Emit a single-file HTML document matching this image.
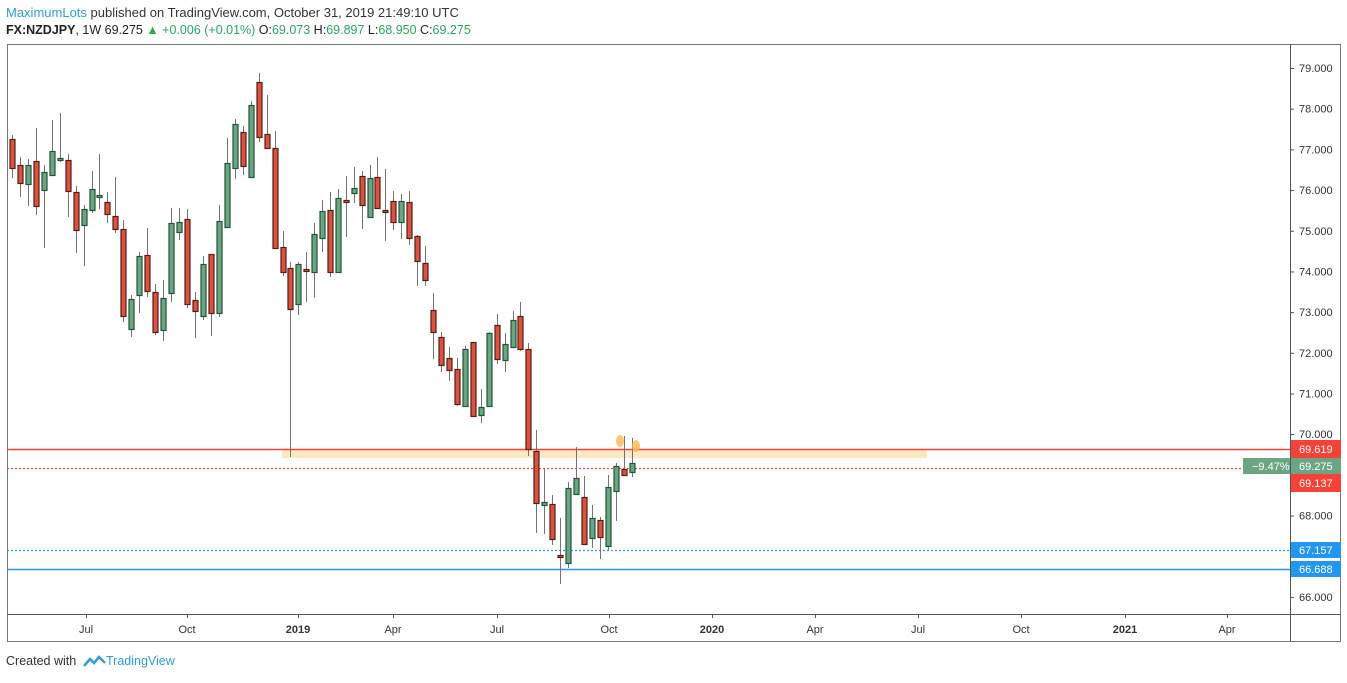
<!DOCTYPE html>
<html><head><meta charset="utf-8"><style>
body{margin:0;background:#fff;width:1347px;height:678px;overflow:hidden;font-family:"Liberation Sans",sans-serif}
</style></head><body>
<svg id="s" width="1347" height="678" xmlns="http://www.w3.org/2000/svg" font-family="Liberation Sans, sans-serif">
<text x="6" y="17" font-size="13" fill="#333"><tspan fill="#2f9be0">MaximumLots</tspan> published on TradingView.com, October 31, 2019 21:49:10 UTC</text>
<text x="6" y="34" font-size="12.5" fill="#222" font-weight="bold">FX:NZDJPY<tspan font-weight="normal">, 1W  69.275 </tspan><tspan fill="#26a65b" font-weight="normal">▲ +0.006 (+0.01%)</tspan><tspan font-weight="normal"> O:</tspan><tspan fill="#26a65b" font-weight="normal">69.073</tspan><tspan font-weight="normal"> H:</tspan><tspan fill="#26a65b" font-weight="normal">69.897</tspan><tspan font-weight="normal"> L:</tspan><tspan fill="#26a65b" font-weight="normal">68.950</tspan><tspan font-weight="normal"> C:</tspan><tspan fill="#26a65b" font-weight="normal">69.275</tspan></text>
<rect x="7.5" y="44.5" width="1333" height="597" fill="none" stroke="#777" stroke-width="1"/>
<line x1="1290.5" y1="44" x2="1290.5" y2="641" stroke="#555"/>
<line x1="7" y1="614.5" x2="1341" y2="614.5" stroke="#555"/>
<g id="ax" font-size="11" fill="#333"></g>
<rect x="282" y="449" width="645" height="9" fill="#fde9c1"/>
<line x1="7" y1="449.5" x2="1290" y2="449.5" stroke="#f44336" stroke-width="1.6"/>
<line x1="7" y1="468.5" x2="1290" y2="468.5" stroke="#f44336" stroke-width="1.3" stroke-dasharray="2,2"/>
<line x1="7" y1="550.5" x2="1290" y2="550.5" stroke="#2196f3" stroke-width="1.3" stroke-dasharray="2,2"/>
<line x1="7" y1="569.5" x2="1290" y2="569.5" stroke="#2196f3" stroke-width="1.6"/>
<g id="c"></g>
<ellipse cx="620" cy="441" rx="4" ry="6" fill="#ffb74d" opacity="0.8"/>
<ellipse cx="636" cy="446" rx="4" ry="6" fill="#ffb74d" opacity="0.8"/>
<rect x="1291" y="440" width="50" height="18" fill="#f44336"/><text x="1299" y="453" font-size="11" fill="#fff">69.619</text>
<rect x="1243" y="458" width="47" height="16" fill="#6ba583"/><text x="1252" y="470" font-size="11" fill="#fff">−9.47%</text>
<rect x="1291" y="458" width="50" height="16" fill="#6ba583"/><text x="1299" y="470" font-size="11" fill="#fff">69.275</text>
<rect x="1291" y="474" width="50" height="18" fill="#f44336"/><text x="1299" y="487" font-size="11" fill="#fff">69.137</text>
<rect x="1291" y="542" width="50" height="16" fill="#2196f3"/><text x="1299" y="554" font-size="11" fill="#fff">67.157</text>
<rect x="1291" y="561" width="50" height="16" fill="#2196f3"/><text x="1299" y="573" font-size="11" fill="#fff">66.688</text>
<text x="6" y="665" font-size="12.5" fill="#333">Created with</text>
<path d="M84 666 l6 -7 l4 4 l5 -6 l6 6" fill="none" stroke="#2f9be0" stroke-width="2.5"/>
<text x="106" y="665" font-size="12.5" fill="#2f9be0">TradingView</text>
</svg>
<script>
const ns="http://www.w3.org/2000/svg";
function el(p,t,a,txt){const e=document.createElementNS(ns,t);for(const k in a)e.setAttribute(k,a[k]);if(txt)e.textContent=txt;p.appendChild(e);return e;}
const ax=document.getElementById('ax');
for(let i=0;i<=13;i++){const p=79-i;const y=68+i*40.69;if(p==70||p==69||p==67)continue;
el(ax,'line',{x1:1290,x2:1294,y1:y+0.5,y2:y+0.5,stroke:'#555'});el(ax,'text',{x:1299,y:y+4},p.toFixed(3));}
el(ax,'line',{x1:1290,x2:1294,y1:434.5,y2:434.5,stroke:'#555'});el(ax,'text',{x:1299,y:438},'70.000');
const tl=[[86,'Jul'],[187,'Oct'],[298,'2019',1],[393,'Apr'],[497,'Jul'],[609,'Oct'],[712,'2020',1],[815,'Apr'],[918,'Jul'],[1021,'Oct'],[1125,'2021',1],[1227,'Apr']];
tl.forEach(t=>{el(ax,'line',{x1:t[0]+0.5,x2:t[0]+0.5,y1:614,y2:618,stroke:'#555'});el(ax,'text',{x:t[0],y:633,'text-anchor':'middle','font-weight':t[2]?'bold':'normal'},t[1]);});
const C=[[12,139,168,135,178,0],[20,165,183,157,197,0],[28,165,184,159,206,1],[36,161,206,128,215,0],[44,172,190,165,248,1],[52,151,175,120,176,1],[60,158,160,113,162,1],[68,160,191,154,217,0],[76,192,230,186,253,0],[84,209,225,205,266,1],[92,189,210,171,213,1],[99,195,197,154,209,1],[107,202,214,192,223,0],[115,216,229,177,233,0],[123,229,316,220,322,0],[131,299,329,295,337,1],[139,256,295,252,313,1],[147,255,291,228,297,0],[155,292,332,284,335,0],[163,298,330,280,341,1],[171,223,293,208,302,1],[179,222,232,208,240,1],[187,219,304,209,308,0],[195,300,311,292,338,0],[203,264,316,256,320,1],[211,254,313,254,336,0],[219,221,313,205,317,1],[227,163,227,138,228,1],[235,124,168,119,179,1],[243,132,166,126,175,0],[251,105,177,101,177,1],[259,82,137,73,142,0],[267,134,148,95,149,0],[275,148,248,131,248,0],[283,247,272,231,276,0],[290,268,309,262,457,0],[298,264,304,262,315,1],[306,269,271,252,302,0],[314,234,272,223,298,1],[322,211,238,200,252,1],[330,210,272,192,277,0],[338,198,272,189,273,1],[346,200,202,176,237,0],[354,188,193,167,203,1],[362,176,205,171,229,0],[370,178,217,165,217,1],[377,177,208,157,209,0],[385,210,212,169,241,0],[393,201,222,191,230,0],[401,201,222,194,239,1],[409,202,238,191,245,0],[417,236,261,235,286,0],[425,263,280,246,286,0],[433,310,332,293,359,0],[441,337,365,332,372,0],[449,358,370,347,381,0],[457,369,404,358,406,0],[465,349,406,346,406,1],[473,342,416,342,417,0],[481,407,415,389,423,1],[489,333,406,332,406,1],[497,325,359,314,364,0],[505,344,360,333,372,1],[513,320,347,311,348,1],[520,316,349,302,351,0],[528,349,449,343,456,0],[536,451,503,430,533,0],[544,502,505,469,534,1],[552,504,539,495,545,0],[560,555,557,518,584,0],[568,488,563,482,568,1],[576,478,494,447,494,1],[584,497,544,476,544,0],[592,518,538,505,548,1],[600,520,537,517,559,0],[608,487,546,475,550,1],[616,466,491,463,521,1],[624,469,475,436,475,0],[632,463,472,438,477,1]];
const g=document.getElementById('c');
C.forEach(c=>{const [x,t,b,h,l,gr]=c;
el(g,'line',{x1:x+0.5,x2:x+0.5,y1:h,y2:l,stroke:'#737375'});
el(g,'rect',{x:x-2,y:t+0.5,width:5,height:Math.max(b-t,1),fill:gr?'#6ba583':'#d75442',stroke:gr?'#225437':'#5b1a13','stroke-width':1.2});});
</script>
</body></html>
